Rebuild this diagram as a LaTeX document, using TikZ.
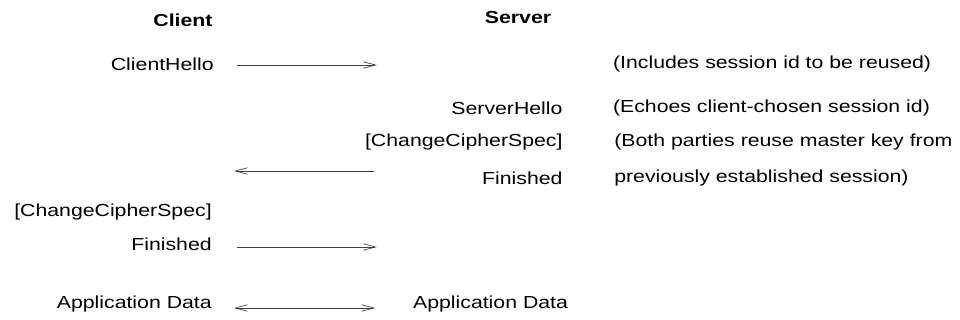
\documentclass[tikz,border=0pt]{standalone}
\usepackage{fontspec}
\setmainfont{Liberation Sans}[FakeStretch=1.22]
\usetikzlibrary{arrows.meta,positioning}
\tikzset{
  % msg style for the message labels
  msg/.style={inner sep=0pt, font=\fontsize{12.4}{15}\selectfont},
  party/.style={msg, font=\fontsize{12.4}{15}\selectfont\bfseries},
  flow/.style={draw=black!75, line width=0.5pt, -{Straight Barb[length=3mm,width=1.6mm]}}}
\begin{document}
\begin{tikzpicture}

\useasboundingbox (0,0) rectangle (24,8);

\draw (4.575,7.5) node (client) [party] {Client};
\draw (12.95,7.55) node (server) [party] {Server};

\draw (5.35,6.4) node (chello) [msg, anchor=east] {ClientHello};
\draw (15.32,6.4) node (note1) [msg, anchor=west] {(Includes session id to be reused)};

\draw (14.07,5.3) node (shello) [msg, anchor=east] {ServerHello};
\draw (15.32,5.3) node (note2) [msg, anchor=west] {(Echoes client-chosen session id)};

\draw (14.07,4.45) node (sccs) [msg, anchor=east] {[ChangeCipherSpec]};
\draw (15.35,4.45) node (note3) [msg, anchor=west] {(Both parties reuse master key from};

\draw (14.07,3.55) node (sfin) [msg, anchor=east] {Finished};
\draw (15.35,3.55) node (note4) [msg, anchor=west] {previously established session)};

\draw (5.3,2.7) node (cccs) [msg, anchor=east] {[ChangeCipherSpec]};
\draw (5.3,1.9) node (cfin) [msg, anchor=east] {Finished};

\draw (5.3,0.4) node (cdata) [msg, anchor=east] {Application Data};
\draw (10.32,0.4) node (sdata) [msg, anchor=west] {Application Data};

% arrow ends
\coordinate (a1) at (5.92,6.375);
\coordinate (b1) at (9.42,6.375);
\coordinate (a2) at (9.35,3.725);
\coordinate (b2) at (5.85,3.725);
\coordinate (a3) at (5.92,1.825);
\coordinate (b3) at (9.42,1.825);
\coordinate (a4) at (5.85,0.3);
\coordinate (b4) at (9.38,0.3);

\draw [flow] (a1) -- (b1);
\draw [flow] (a2) -- (b2);
\draw [flow] (a3) -- (b3);
\draw [flow, {Straight Barb[length=3mm,width=1.6mm]}-{Straight Barb[length=3mm,width=1.6mm]}] (a4) -- (b4);

\end{tikzpicture}
\end{document}
